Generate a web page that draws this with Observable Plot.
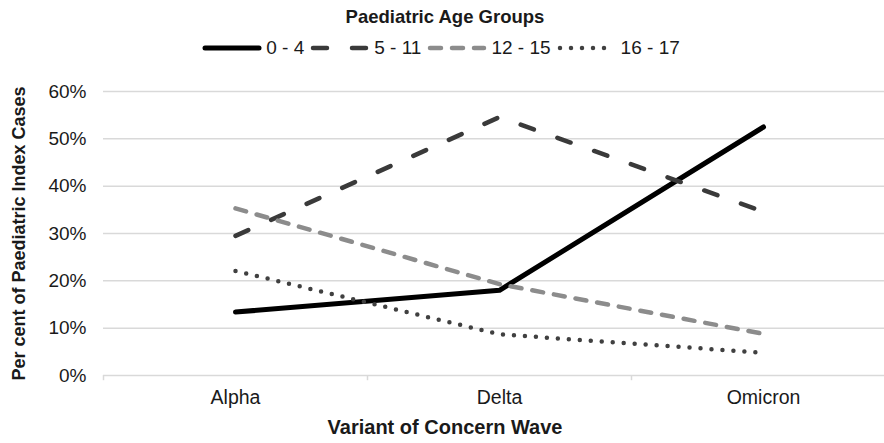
<!DOCTYPE html>
<html><head><meta charset="utf-8">
<script src="https://cdn.jsdelivr.net/npm/d3@7"></script>
<script src="https://cdn.jsdelivr.net/npm/@observablehq/plot@0.6"></script>
<style>
body{margin:0;background:#fff;font-family:"Liberation Sans",Arial,sans-serif;color:#1a1a1a;}
#title{height:33px;line-height:33px;text-align:center;font-weight:bold;font-size:18.5px;padding-left:6px}
#legend{height:29px;display:flex;justify-content:center;align-items:center;font-size:19px;padding-left:4px}
.item{display:flex;align-items:center;margin-right:6px}
.item svg{margin-right:4px}
#xtitle{height:31px;line-height:31px;text-align:center;font-weight:bold;font-size:20px;padding-left:6px}
#chart svg{display:block}
</style></head><body>
<div id="title">Paediatric Age Groups</div>
<div id="legend"></div>
<div id="chart"></div>
<div id="xtitle">Variant of Concern Wave</div>
<script>
const waves = ["Alpha", "Delta", "Omicron"];
const groups = ["0 - 4", "5 - 11", "12 - 15", "16 - 17"];
const age0to4 = [13.4, 18.0, 52.5];
const age5to11 = [29.5, 54.6, 34.6];
const age12to15 = [35.3, 19.3, 8.8];
const age16to17 = [22.1, 8.7, 4.8];
const yTicks = [0, 10, 20, 30, 40, 50, 60];

const seriesValues = [age0to4, age5to11, age12to15, age16to17];
const lineStyles = [
  {stroke: "#000000", strokeWidth: 5, strokeDasharray: null},
  {stroke: "#3a3a3a", strokeWidth: 4.5, strokeDasharray: "14,25"},
  {stroke: "#8c8c8c", strokeWidth: 4.5, strokeDasharray: "11,11"},
  {stroke: "#404040", strokeWidth: 4.5, strokeDasharray: "0,11"}
];

const rows = groups.flatMap((g, i) => waves.map((w, j) => ({group: g, wave: w, value: seriesValues[i][j]})));

// Legend (HTML)
const legend = d3.select("#legend");
groups.forEach((g, i) => {
  const s = lineStyles[i];
  const item = legend.append("div").attr("class", "item");
  const svg = item.append("svg").attr("width", 60).attr("height", 12);
  svg.append("line").attr("x1", 3).attr("x2", 57).attr("y1", 6).attr("y2", 6)
    .attr("stroke", s.stroke).attr("stroke-width", s.strokeWidth)
    .attr("stroke-linecap", "round")
    .attr("stroke-dasharray", s.strokeDasharray);
  item.append("span").text(g);
});

const lineMarks = groups.map((g, i) => Plot.line(rows.filter(d => d.group === g), {
  x: "wave", y: "value",
  stroke: lineStyles[i].stroke,
  strokeWidth: lineStyles[i].strokeWidth,
  strokeDasharray: lineStyles[i].strokeDasharray,
  strokeLinecap: "round", strokeLinejoin: "round"
}));

function makeChart(extra) {
  return Plot.plot({
    width: 884,
    height: 350,
    marginLeft: 103,
    marginRight: 0,
    marginTop: 29,
    marginBottom: 37,
    style: {fontFamily: "'Liberation Sans', Arial, sans-serif", fontSize: "19px", color: "#1a1a1a", background: "#fff"},
    x: {type: "band", domain: waves, range: [103, 895], padding: 0},
    y: {domain: [0, 60]},
    marks: [
      Plot.ruleY(yTicks, {y: d => d, stroke: "#d9d9d9", strokeWidth: 1.5}),
      ...extra,
      Plot.axisY({ticks: yTicks, tickSize: 0, tickPadding: 17, tickFormat: d => d + "%", label: null, fontSize: 19}),
      Plot.axisY({ticks: [], label: "Per cent of Paediatric Index Cases", labelArrow: false, labelAnchor: "center", labelOffset: 91, fontWeight: "bold", fontSize: 18}),
      Plot.axisX({tickSize: 0, tickPadding: 15, label: null, fontSize: 19.5}),
      ...lineMarks
    ]
  });
}
// first pass to read the band width from Plot's own x scale
const probe = makeChart([]);
const half = probe.scale("x").bandwidth / 2;
const chart = makeChart([
  Plot.ruleX(waves, {x: d => d, y1: 0, y2: -1.1, dx: -half, stroke: "#d9d9d9", strokeWidth: 1.5})
]);
document.getElementById("chart").append(chart);
</script>
</body></html>
